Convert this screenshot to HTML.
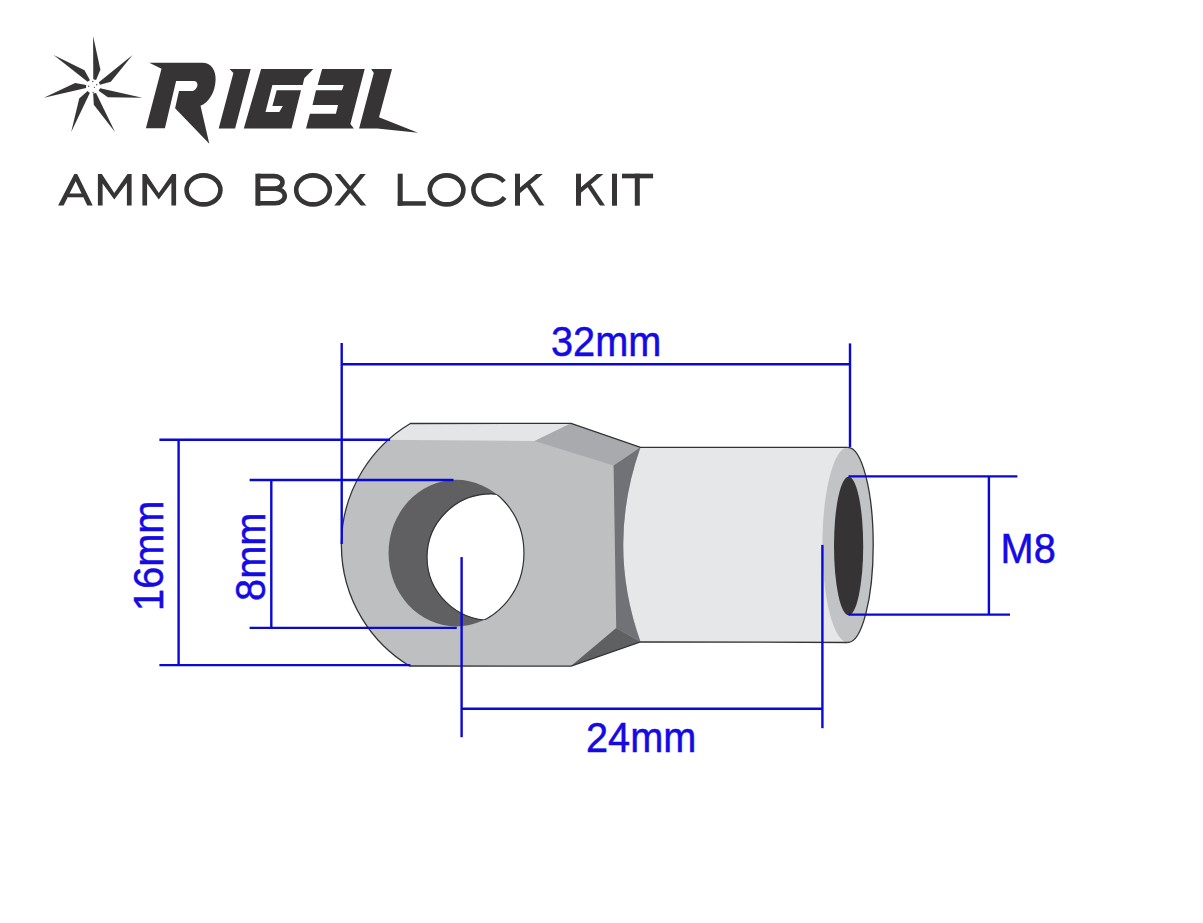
<!DOCTYPE html>
<html><head><meta charset="utf-8">
<style>
html,body{margin:0;padding:0;background:#fff;width:1203px;height:923px;overflow:hidden}
svg{position:absolute;left:0;top:0;display:block}
</style></head><body>
<svg width="1203" height="923" viewBox="0 0 1203 923">
<defs>
  <clipPath id="silClip"><path d="M410.4,423.5 L571.1,423.3 L640.5,447.3 Q606,545 640.5,641.8 L571.1,666.1 L409.5,666 A141.5,141.5 0 0 1 410.4,423.5 Z"/></clipPath>
  <clipPath id="row"><rect x="0" y="173.9" width="1203" height="31.7"/></clipPath>
  <clipPath id="frontHole"><ellipse cx="456.25" cy="553.1" rx="67.7" ry="73.3"/></clipPath>
  <clipPath id="backHole"><ellipse cx="491.06" cy="557.17" rx="64" ry="63.2"/></clipPath>
  <g id="blade"><polygon points="0,-50.5 7.3,-16.8 3,-6.4 0.2,-7.2"/></g>
</defs>

<!-- ===== LOGO STAR ===== -->
<g fill="#363435" transform="translate(93.1,86.5)">
  <use href="#blade" transform="rotate(0)"/>
  <use href="#blade" transform="rotate(51.43)"/>
  <use href="#blade" transform="rotate(102.86)"/>
  <use href="#blade" transform="rotate(154.29)"/>
  <use href="#blade" transform="rotate(205.71)"/>
  <use href="#blade" transform="rotate(257.14)"/>
  <use href="#blade" transform="rotate(308.57)"/>
</g>

<g fill="#555">
  <circle cx="92.8" cy="81.4" r="0.75"/><circle cx="88.7" cy="86.3" r="0.75"/><circle cx="96.7" cy="84.8" r="0.75"/><circle cx="94.4" cy="87.4" r="0.6"/><circle cx="93.1" cy="92.5" r="0.75"/>
</g>
<!-- ===== LOGO LETTERS ===== -->
<g fill="#363435">
  <path d="M149.3,62.8 L202.4,62.8 C211,62.8 215.8,70 215.6,79.5 C215.3,92 209,102.5 200.5,105.7 L209.3,143.8 L175.1,108.2 L179,91.1 L192.7,91.1 C196,90 197.8,86.5 197.4,84 C197,81.8 195.8,80.9 194,80.9 L176.1,80.9 L164.9,128.2 L145.9,128.2 L161.5,68.7 Z"/>
  <path d="M229.5,69.1 L250.7,69.1 L235.1,128.5 L218.7,128.5 L233.4,73 Z"/>
  <path d="M261.1,69.1 L313.4,69.1 L304.3,78.2 L302.7,85.1 L272.4,85.1 L265.5,112 L279.3,112 L282.8,105.9 L272.4,105.9 L276.7,90.3 L301,90.3 L291.5,128.5 L243.8,128.5 Z"/>
  <path d="M322.1,69.1 L364.7,69.1 L350.4,124.1 L353.9,128.5 L306,128.5 L309.9,113.7 L335.9,113.7 L338.1,105.1 L312.5,105.1 L316,90.3 L342,90.3 L343.7,85.1 L317.7,85.1 Z"/>
  <path d="M371.2,69.1 L392,69.1 L379,117.2 L418,132.8 L377.3,128.5 L359.1,128.5 L373.8,73 Z"/>
</g>

<!-- ===== AMMO BOX LOCK KIT ===== -->
<g fill="#363435" stroke="none">
  <!-- A -->
  <polygon points="58.1,205.6 74.3,173.9 77.2,173.9 92.7,205.6 87.3,205.6 75.7,181.3 63.6,205.6"/>
  <rect x="68" y="193.5" width="15.5" height="3.8"/>
  <!-- M -->
  <polygon points="97.9,205.6 97.9,173.9 101.8,173.9 114.3,193 127.5,173.9 131.6,173.9 131.6,205.6 126.9,205.6 126.9,182.8 114.3,199.6 102.6,183.6 102.6,205.6"/>
  <!-- M -->
  <polygon transform="translate(44.5,0)" points="97.9,205.6 97.9,173.9 101.8,173.9 114.3,193 127.5,173.9 131.6,173.9 131.6,205.6 126.9,205.6 126.9,182.8 114.3,199.6 102.6,183.6 102.6,205.6"/>
  <!-- B -->
  <rect x="255.4" y="173.7" width="5" height="32"/>
  <!-- L -->
  <rect x="397.7" y="173.7" width="5" height="32"/>
  <rect x="397.7" y="201.2" width="28.1" height="4.5"/>
  <!-- I -->
  <rect x="612" y="173.7" width="5" height="32"/>
  <!-- T -->
  <rect x="622" y="173.7" width="31.1" height="4.6"/>
  <rect x="634.8" y="173.7" width="5" height="32"/>
  <!-- K stems -->
  <rect x="515" y="173.7" width="5" height="32"/>
  <rect x="576" y="173.7" width="5" height="32"/>
</g>
<g fill="none" stroke="#363435" stroke-width="4.6">
  <ellipse cx="203.5" cy="189.9" rx="16.9" ry="14.5"/>
  <ellipse cx="313" cy="189.9" rx="16.8" ry="14.5"/>
  <ellipse cx="446.6" cy="189.9" rx="16.8" ry="14.5"/>
  <path d="M504,181.6 A16.8,14.5 0 1 0 504.6,197.4"/>
  <path d="M257.9,176.1 H274 A8.5,6.25 0 0 1 274,188.6 H257.9 M272,188.6 H275.2 A9.5,7.3 0 0 1 275.2,203.3 H257.9"/>
</g>
<g fill="none" stroke="#363435" stroke-width="4.3" clip-path="url(#row)">
  <line x1="333.5" y1="169.1" x2="367.4" y2="210.4"/>
  <line x1="367" y1="169.1" x2="333.1" y2="210.4"/>
  <line x1="543.5" y1="170.6" x2="517.9" y2="192.2"/>
  <line x1="527.2" y1="183.6" x2="543.2" y2="207.6"/>
  <g transform="translate(60.6,0)">
  <line x1="543.5" y1="170.6" x2="517.9" y2="192.2"/>
  <line x1="527.2" y1="183.6" x2="543.2" y2="207.6"/>
  </g>
</g>

<!-- ===== PART ===== -->
<!-- cylinder -->
<rect x="622" y="447.3" width="226" height="195.2" fill="#e6e7e9"/>
<!-- main face -->
<path id="sil" d="M410.4,423.5 L571.1,423.3 L640.5,447.3 Q606,545 640.5,641.8 L571.1,666.1 L409.5,666 A141.5,141.5 0 0 1 410.4,423.5 Z" fill="#bebfc1"/>
<!-- top light face -->
<polygon points="330,423.3 571.1,423.3 534.7,441 330,439.4" fill="#e4e5e7" clip-path="url(#silClip)"/>
<!-- top chamfer -->
<polygon points="534.7,441 571.1,423.3 640.5,447.3 613.6,465.5" fill="#a9aaad"/>
<!-- side face -->
<path d="M613.6,465.5 L640.5,447.3 Q606,545 640.5,641.8 L616.2,627.9 Z" fill="#707276"/>
<!-- bottom chamfer -->
<polygon points="571.1,666.1 616.2,627.9 640.5,641.8" fill="#5f6062"/>
<!-- hole: dark ring + white -->
<ellipse cx="456.25" cy="553.1" rx="67.7" ry="73.3" fill="#606062"/>
<ellipse cx="491.06" cy="557.17" rx="64" ry="63.2" fill="#fff" stroke="#333" stroke-width="1.2" clip-path="url(#frontHole)"/>
<ellipse cx="456.25" cy="553.1" rx="67.7" ry="73.3" fill="none" stroke="#333" stroke-width="1.2" clip-path="url(#backHole)"/>
<!-- end face -->
<ellipse cx="847.8" cy="544.9" rx="25.4" ry="97.6" fill="#c2c3c5"/>
<ellipse cx="848.6" cy="546" rx="14.6" ry="69.2" fill="#353334"/>
<!-- outlines -->
<g fill="none" stroke="#333" stroke-width="1.3">
  <path d="M847.8,447.3 L640.5,447.3 L571.1,423.3 L410.4,423.5 A141.5,141.5 0 0 0 409.5,666 L571.1,666.1 L640.5,641.8 L847.8,642.5"/>
  <path d="M847.8,447.3 A25.4,97.6 0 0 1 847.8,642.5"/>
</g>

<!-- ===== DIMENSIONS ===== -->
<g stroke="#0a08d4" stroke-width="2.4" fill="none">
  <line x1="341.7" y1="343" x2="341.7" y2="544"/>
  <line x1="850" y1="343.4" x2="850" y2="447"/>
  <line x1="341.7" y1="364.3" x2="850" y2="364.3"/>
  <line x1="159.4" y1="439.7" x2="390.1" y2="439.7"/>
  <line x1="159.4" y1="665.1" x2="410.4" y2="665.1"/>
  <line x1="178.6" y1="439.7" x2="178.6" y2="665.1"/>
  <line x1="249.6" y1="480" x2="453.5" y2="480"/>
  <line x1="249.6" y1="627.9" x2="456.8" y2="627.9"/>
  <line x1="271.3" y1="480" x2="271.3" y2="627.9"/>
  <line x1="461.6" y1="557.1" x2="461.6" y2="737.2"/>
  <line x1="822.4" y1="544.9" x2="822.4" y2="728.2"/>
  <line x1="461.6" y1="708.7" x2="822.4" y2="708.7"/>
  <line x1="848.5" y1="476.4" x2="1017.4" y2="476.4"/>
  <line x1="848.5" y1="614.6" x2="1010" y2="614.6"/>
  <line x1="988.9" y1="476.4" x2="988.9" y2="614.6"/>
</g>
<g fill="#140ae4" stroke="#140ae4" stroke-width="0.5" font-family="Liberation Sans, sans-serif" font-size="42">
  <text transform="translate(551,356) scale(0.945,1)">32mm</text>
  <text transform="translate(586,752) scale(0.945,1)">24mm</text>
  <text transform="translate(1000.6,563) scale(0.945,1)">M8</text>
  <text transform="translate(162.5,610.9) rotate(-90) scale(0.945,1)">16mm</text>
  <text transform="translate(265,600.9) rotate(-90) scale(0.945,1)">8mm</text>
</g>
</svg>
</body></html>
